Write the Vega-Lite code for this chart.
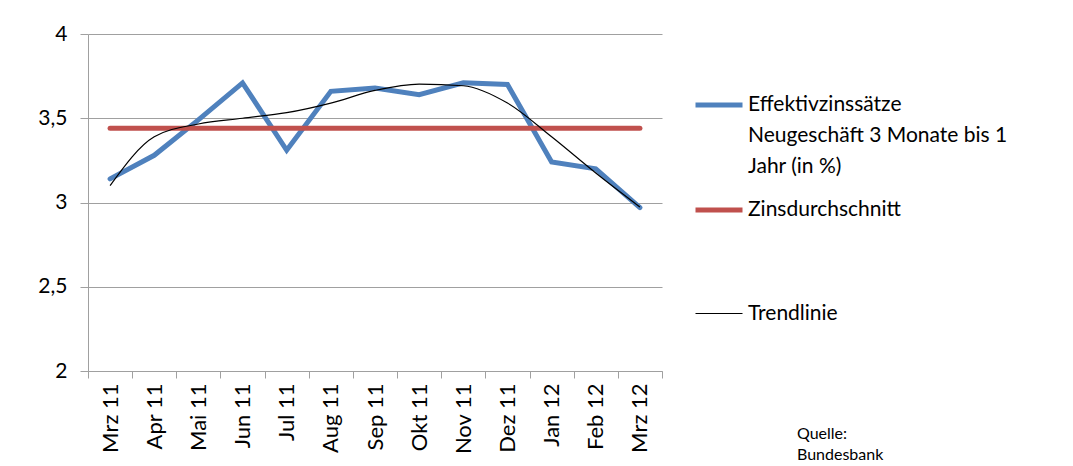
{
  "$schema": "https://vega.github.io/schema/vega-lite/v6.json",
  "autosize": "none",
  "width": 574,
  "height": 337,
  "padding": {"left": 88, "top": 34, "right": 411, "bottom": 95},
  "config": {
    "font": "Lato",
    "view": {"stroke": null},
    "style": {"guide-label": {"lineHeight": 31}},
    "axis": {"domainColor": "#a0a0a0", "tickColor": "#a0a0a0", "gridColor": "#a0a0a0", "labelColor": "#000000", "labelFont": "Lato"}
  },
  "title": {
    "text": ["Quelle:", "Bundesbank"],
    "orient": "bottom",
    "anchor": "start",
    "frame": "group",
    "dx": 709,
    "offset": -28,
    "fontSize": 16,
    "fontWeight": "normal",
    "font": "Lato",
    "lineHeight": 21,
    "color": "#000000"
  },
  "data": {
    "values": [
      {"month": "Mrz 11", "series": "Effektivzinssätze Neugeschäft 3 Monate bis 1 Jahr (in %)", "value": 3.14},
      {"month": "Apr 11", "series": "Effektivzinssätze Neugeschäft 3 Monate bis 1 Jahr (in %)", "value": 3.28},
      {"month": "Mai 11", "series": "Effektivzinssätze Neugeschäft 3 Monate bis 1 Jahr (in %)", "value": 3.49},
      {"month": "Jun 11", "series": "Effektivzinssätze Neugeschäft 3 Monate bis 1 Jahr (in %)", "value": 3.71},
      {"month": "Jul 11", "series": "Effektivzinssätze Neugeschäft 3 Monate bis 1 Jahr (in %)", "value": 3.31},
      {"month": "Aug 11", "series": "Effektivzinssätze Neugeschäft 3 Monate bis 1 Jahr (in %)", "value": 3.66},
      {"month": "Sep 11", "series": "Effektivzinssätze Neugeschäft 3 Monate bis 1 Jahr (in %)", "value": 3.68},
      {"month": "Okt 11", "series": "Effektivzinssätze Neugeschäft 3 Monate bis 1 Jahr (in %)", "value": 3.64},
      {"month": "Nov 11", "series": "Effektivzinssätze Neugeschäft 3 Monate bis 1 Jahr (in %)", "value": 3.71},
      {"month": "Dez 11", "series": "Effektivzinssätze Neugeschäft 3 Monate bis 1 Jahr (in %)", "value": 3.70},
      {"month": "Jan 12", "series": "Effektivzinssätze Neugeschäft 3 Monate bis 1 Jahr (in %)", "value": 3.24},
      {"month": "Feb 12", "series": "Effektivzinssätze Neugeschäft 3 Monate bis 1 Jahr (in %)", "value": 3.20},
      {"month": "Mrz 12", "series": "Effektivzinssätze Neugeschäft 3 Monate bis 1 Jahr (in %)", "value": 2.97},
      {"month": "Mrz 11", "series": "Zinsdurchschnitt", "value": 3.44},
      {"month": "Apr 11", "series": "Zinsdurchschnitt", "value": 3.44},
      {"month": "Mai 11", "series": "Zinsdurchschnitt", "value": 3.44},
      {"month": "Jun 11", "series": "Zinsdurchschnitt", "value": 3.44},
      {"month": "Jul 11", "series": "Zinsdurchschnitt", "value": 3.44},
      {"month": "Aug 11", "series": "Zinsdurchschnitt", "value": 3.44},
      {"month": "Sep 11", "series": "Zinsdurchschnitt", "value": 3.44},
      {"month": "Okt 11", "series": "Zinsdurchschnitt", "value": 3.44},
      {"month": "Nov 11", "series": "Zinsdurchschnitt", "value": 3.44},
      {"month": "Dez 11", "series": "Zinsdurchschnitt", "value": 3.44},
      {"month": "Jan 12", "series": "Zinsdurchschnitt", "value": 3.44},
      {"month": "Feb 12", "series": "Zinsdurchschnitt", "value": 3.44},
      {"month": "Mrz 12", "series": "Zinsdurchschnitt", "value": 3.44},
      {"month": "Mrz 11", "series": "Trendlinie", "value": 3.10},
      {"month": "Apr 11", "series": "Trendlinie", "value": 3.39},
      {"month": "Mai 11", "series": "Trendlinie", "value": 3.466},
      {"month": "Jun 11", "series": "Trendlinie", "value": 3.50},
      {"month": "Jul 11", "series": "Trendlinie", "value": 3.533},
      {"month": "Aug 11", "series": "Trendlinie", "value": 3.59},
      {"month": "Sep 11", "series": "Trendlinie", "value": 3.665},
      {"month": "Okt 11", "series": "Trendlinie", "value": 3.703},
      {"month": "Nov 11", "series": "Trendlinie", "value": 3.693},
      {"month": "Dez 11", "series": "Trendlinie", "value": 3.59},
      {"month": "Jan 12", "series": "Trendlinie", "value": 3.39},
      {"month": "Feb 12", "series": "Trendlinie", "value": 3.175},
      {"month": "Mrz 12", "series": "Trendlinie", "value": 2.973}
    ]
  },
  "encoding": {
    "x": {
      "field": "month",
      "type": "nominal",
      "sort": null,
      "bandPosition": 0.5,
      "scale": {"type": "band", "paddingInner": 0, "paddingOuter": 0},
      "axis": {
        "title": null,
        "tickBand": "extent",
        "labelAngle": -90,
        "labelAlign": "right",
        "labelBaseline": "middle",
        "labelFontSize": 22,
        "tickSize": 7,
        "labelPadding": 5,
        "grid": false
      }
    },
    "y": {
      "field": "value",
      "type": "quantitative",
      "scale": {"domain": [2, 4], "nice": false, "zero": false},
      "axis": {
        "title": null,
        "values": [2, 2.5, 3, 3.5, 4],
        "labelExpr": "replace(format(datum.value, '~g'), '.', ',')",
        "labelFontSize": 21,
        "tickSize": 8,
        "labelPadding": 13,
        "grid": true
      }
    },
    "color": {
      "field": "series",
      "type": "nominal",
      "scale": {
        "domain": ["Effektivzinssätze Neugeschäft 3 Monate bis 1 Jahr (in %)", "Zinsdurchschnitt", "Trendlinie"],
        "range": ["#4F81BD", "#C0504D", "#000000"]
      },
      "legend": {
        "title": null,
        "orient": "none",
        "legendX": 605,
        "legendY": 45,
        "padding": 0,
        "symbolType": "stroke",
        "symbolSize": 2209,
        "symbolStrokeWidth": 5,
        "labelOffset": 3,
        "labelFontSize": 21,
        "labelFont": "Lato",
        "labelColor": "#000000",
        "labelLimit": 400,
        "labelBaseline": "middle",
        "rowPadding": 7,
        "gridAlign": "all",
        "labelExpr": "datum.label == 'Effektivzinssätze Neugeschäft 3 Monate bis 1 Jahr (in %)' ? ['Effektivzinssätze', 'Neugeschäft 3 Monate bis 1', 'Jahr (in %)'] : datum.label"
      }
    },
    "strokeWidth": {
      "field": "series",
      "type": "nominal",
      "scale": {
        "type": "ordinal",
        "domain": ["Effektivzinssätze Neugeschäft 3 Monate bis 1 Jahr (in %)", "Zinsdurchschnitt", "Trendlinie"],
        "range": [5, 5, 1.2]
      },
      "legend": null
    }
  },
  "layer": [
    {
      "transform": [{"filter": "datum.series == 'Effektivzinssätze Neugeschäft 3 Monate bis 1 Jahr (in %)'"}],
      "mark": {"type": "line", "strokeCap": "round", "strokeJoin": "miter"}
    },
    {
      "transform": [{"filter": "datum.series == 'Zinsdurchschnitt'"}],
      "mark": {"type": "line", "strokeCap": "round"}
    },
    {
      "transform": [{"filter": "datum.series == 'Trendlinie'"}],
      "mark": {"type": "line", "interpolate": "monotone"}
    }
  ]
}
